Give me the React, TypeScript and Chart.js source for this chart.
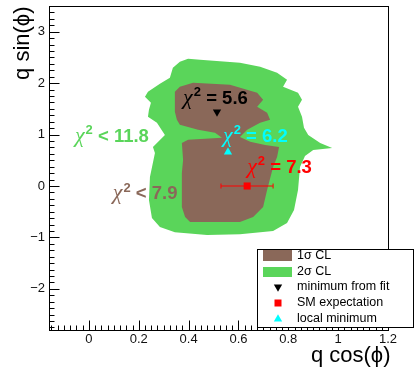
import React, { useEffect, useRef } from 'react';
import { Chart, registerables } from 'chart.js';

Chart.register(...registerables);

// ---- axes ----
const xTickValues = [0, 0.2, 0.4, 0.6, 0.8, 1, 1.2];
const yTickValues = [-2, -1, 0, 1, 2, 3];
const xMin = -0.16;
const xMax = 1.2;
const yMin = -2.8;
const yMax = 3.5;
const xTitle = 'q cos(ϕ)';
const yTitle = 'q sin(ϕ)';

// ---- 2 sigma contour ----
const cl2X = [0.446, 0.606, 0.687, 0.755, 0.795, 0.779, 0.839, 0.855, 0.839, 0.855, 0.863, 0.88, 0.928, 0.976, 0.9, 0.867, 0.847, 0.839, 0.823, 0.795, 0.739, 0.606, 0.474, 0.345, 0.285, 0.253, 0.241, 0.245, 0.265, 0.257, 0.305, 0.273, 0.237, 0.241, 0.249, 0.225, 0.237, 0.285, 0.325, 0.337, 0.365, 0.398, 0.446];
const cl2Y = [2.456, 2.398, 2.32, 2.203, 2.066, 1.93, 1.813, 1.676, 1.54, 1.345, 1.131, 0.994, 0.838, 0.741, 0.702, 0.585, 0.37, -0.078, -0.468, -0.721, -0.877, -0.936, -0.955, -0.897, -0.799, -0.624, -0.273, 0.175, 0.643, 0.76, 0.994, 1.228, 1.345, 1.481, 1.618, 1.735, 1.832, 1.988, 2.105, 2.3, 2.417, 2.476, 2.456];

// ---- 1 sigma contour ----
const cl1X = [0.365, 0.418, 0.566, 0.675, 0.699, 0.675, 0.715, 0.727, 0.687, 0.635, 0.606, 0.647, 0.707, 0.763, 0.755, 0.739, 0.715, 0.699, 0.659, 0.606, 0.538, 0.406, 0.386, 0.373, 0.373, 0.378, 0.373, 0.398, 0.534, 0.506, 0.438, 0.365, 0.353, 0.345, 0.345, 0.365];
const cl1Y = [1.93, 2.008, 1.969, 1.813, 1.676, 1.54, 1.423, 1.287, 1.228, 1.092, 0.955, 0.858, 0.799, 0.76, 0.565, 0.37, -0.078, -0.409, -0.604, -0.702, -0.702, -0.702, -0.604, -0.409, 0.253, 0.507, 0.838, 0.897, 0.936, 1.033, 1.092, 1.189, 1.287, 1.442, 1.832, 1.93];

// ---- points ----
const fitMinX = [0.514];
const fitMinY = [1.44];
const localMinX = [0.558];
const localMinY = [0.66];
const smX = [0.635];
const smY = [0];
const smErrLow = [0.53];
const smErrHigh = [0.739];

// ---- texts ----
const chiTexts = ['= 5.6', '= 6.2', '= 7.3', '< 11.8', '< 7.9'];
const legendLabels = ['1σ CL', '2σ CL', 'minimum from fit', 'SM expectation', 'local minimum'];

// ---- styles / layout (not data) ----
const BROWN = 'rgb(138,104,89)';
const GREEN = 'rgb(90,213,90)';
const CYAN = 'rgb(0,255,255)';
const RED = 'rgb(255,0,0)';
const chiAnchors = [
  { x: 0.378, y: 1.6, color: '#000' },
  { x: 0.538, y: 0.858, color: CYAN },
  { x: 0.635, y: 0.253, color: RED },
  { x: -0.056, y: 0.858, color: GREEN },
  { x: 0.096, y: -0.253, color: BROWN },
];
const SANS = '"Liberation Sans", Arial, sans-serif';
const SERIF = '"Liberation Serif", "Times New Roman", serif';

const zip = (xs: number[], ys: number[]) => xs.map((x, i) => ({ x, y: ys[i] }));

function drawTri(ctx: CanvasRenderingContext2D, x: number, y: number, r: number, down: boolean, color: string) {
  ctx.beginPath();
  const s = down ? -1 : 1;
  ctx.moveTo(x, y - s * r);
  ctx.lineTo(x + r * 0.866, y + s * r * 0.5);
  ctx.lineTo(x - r * 0.866, y + s * r * 0.5);
  ctx.closePath();
  ctx.fillStyle = color;
  ctx.fill();
}

const overlay = {
  id: 'overlay',
  afterDraw(chart: any) {
    const ctx: CanvasRenderingContext2D = chart.ctx;
    const { left, right, top, bottom } = chart.chartArea;
    const xs = chart.scales.x;
    const ys = chart.scales.y;
    ctx.save();

    // chi^2 labels
    chiTexts.forEach((t, i) => {
      const a = chiAnchors[i];
      const px = xs.getPixelForValue(a.x);
      const py = ys.getPixelForValue(a.y);
      ctx.fillStyle = a.color;
      ctx.textBaseline = 'alphabetic';
      ctx.textAlign = 'left';
      ctx.font = 'italic 22px ' + SERIF;
      ctx.fillText('χ', px, py);
      const w1 = ctx.measureText('χ').width;
      ctx.font = 'bold 13px ' + SANS;
      ctx.fillText('2', px + w1 + 1, py - 7.5);
      const w2 = ctx.measureText('2').width;
      ctx.font = 'bold 18.5px ' + SANS;
      ctx.fillText(' ' + t, px + w1 + w2 + 1, py);
    });

    // frame
    ctx.strokeStyle = '#000';
    ctx.lineWidth = 1;
    const L = Math.round(left) + 0.5;
    const T = Math.round(top) + 0.5;
    const R = Math.round(right) + 0.5;
    const B = Math.round(bottom) + 0.5;
    ctx.strokeRect(L, T, R - L, B - T);

    // ticks
    ctx.beginPath();
    for (let k = Math.ceil(xMin * 40); k <= Math.floor(xMax * 40); k++) {
      const px = Math.round(xs.getPixelForValue(k / 40)) + 0.5;
      const len = k % 8 === 0 ? 10 : 5;
      ctx.moveTo(px, B);
      ctx.lineTo(px, B - len);
    }
    for (let k = Math.ceil(yMin * 8); k <= Math.floor(yMax * 8); k++) {
      const py = Math.round(ys.getPixelForValue(k / 8)) + 0.5;
      const len = k % 8 === 0 ? 10 : 5;
      ctx.moveTo(L, py);
      ctx.lineTo(L + len, py);
    }
    ctx.stroke();

    // axis titles
    ctx.fillStyle = '#000';
    ctx.font = '22px ' + SANS;
    ctx.textAlign = 'right';
    ctx.textBaseline = 'alphabetic';
    ctx.fillText(xTitle, R + 2, 362);
    ctx.save();
    ctx.translate(29, T);
    ctx.rotate(-Math.PI / 2);
    ctx.fillText(yTitle, 0, 0);
    ctx.restore();

    // legend
    const lx = 257.5, ly = 249.5, lw = 156, lh = 78;
    ctx.fillStyle = '#fff';
    ctx.fillRect(lx, ly, lw, lh);
    ctx.strokeStyle = '#000';
    ctx.lineWidth = 1;
    ctx.strokeRect(lx, ly, lw, lh);
    const rows = [255.5, 272, 287, 303, 319];
    const mx = 278;
    ctx.fillStyle = BROWN;
    ctx.fillRect(263, 250, 29, 11);
    ctx.fillStyle = GREEN;
    ctx.fillRect(263, 267, 29, 10);
    drawTri(ctx, mx, rows[2], 4.8, true, '#000');
    ctx.fillStyle = RED;
    ctx.fillRect(mx - 3.5, rows[3] - 3.5, 7, 7);
    drawTri(ctx, mx, rows[4], 4.8, false, CYAN);
    ctx.fillStyle = '#000';
    ctx.font = '12.5px ' + SANS;
    ctx.textAlign = 'left';
    ctx.textBaseline = 'middle';
    legendLabels.forEach((t, i) => ctx.fillText(t, 297, rows[i]));

    ctx.restore();
  },
};

export default function App() {
  const ref = useRef<HTMLCanvasElement | null>(null);
  useEffect(() => {
    if (!ref.current) return;
    const chart = new Chart(ref.current, {
      type: 'scatter',
      data: {
        datasets: [
          {
            label: 'minimum from fit',
            data: zip(fitMinX, fitMinY),
            pointStyle: 'triangle',
            rotation: 180,
            pointRadius: 4.8,
            backgroundColor: '#000',
            borderColor: '#000',
            borderWidth: 0,
            order: 0,
          },
          {
            label: 'local minimum',
            data: zip(localMinX, localMinY),
            pointStyle: 'triangle',
            pointRadius: 4.8,
            backgroundColor: CYAN,
            borderColor: CYAN,
            borderWidth: 0,
            order: 0,
          },
          {
            label: 'SM expectation',
            data: zip(smX, smY),
            pointStyle: 'rect',
            pointRadius: 5,
            backgroundColor: RED,
            borderColor: RED,
            borderWidth: 0,
            order: 0,
          },
          {
            label: 'SM error',
            data: [
              { x: smErrLow[0], y: smY[0] },
              { x: smErrHigh[0], y: smY[0] },
            ],
            showLine: true,
            borderColor: RED,
            borderWidth: 1,
            pointStyle: 'line',
            rotation: 90,
            pointRadius: 2.5,
            pointBorderColor: RED,
            pointBorderWidth: 1,
            order: 1,
          },
          {
            label: '1σ CL',
            data: zip(cl1X, cl1Y),
            showLine: true,
            fill: 'shape',
            backgroundColor: BROWN,
            borderColor: 'rgba(0,0,0,0)',
            borderWidth: 1,
            pointRadius: 0,
            tension: 0,
            order: 2,
          },
          {
            label: '2σ CL',
            data: zip(cl2X, cl2Y),
            showLine: true,
            fill: 'shape',
            backgroundColor: GREEN,
            borderColor: 'rgba(0,0,0,0)',
            borderWidth: 1,
            pointRadius: 0,
            tension: 0,
            order: 3,
          },
        ],
      } as any,
      options: {
        animation: false,
        responsive: false,
        devicePixelRatio: 1,
        layout: { padding: { left: 0, right: 27, top: 6, bottom: 0 } },
        plugins: { legend: { display: false }, tooltip: { enabled: false } },
        events: [],
        scales: {
          x: {
            type: 'linear',
            min: xMin,
            max: xMax,
            afterBuildTicks: (s: any) => {
              s.ticks = xTickValues.map((v) => ({ value: v }));
            },
            afterFit: (s: any) => {
              s.height = 38;
              s.paddingLeft = 0;
              s.paddingRight = 0;
              s.paddingTop = 0;
              s.paddingBottom = 0;
            },
            grid: { display: false, drawTicks: false },
            border: { display: false },
            ticks: {
              autoSkip: false,
              maxRotation: 0,
              padding: 2,
              color: '#111',
              font: { family: SANS, size: 13 },
              callback: (v: any) => (v === 0 ? '0' : v === 1 ? '1' : Number(v).toFixed(1)),
            },
          },
          y: {
            type: 'linear',
            min: yMin,
            max: yMax,
            afterBuildTicks: (s: any) => {
              s.ticks = yTickValues.map((v) => ({ value: v }));
            },
            afterFit: (s: any) => {
              s.width = 49;
              s.paddingLeft = 0;
              s.paddingRight = 0;
              s.paddingTop = 0;
              s.paddingBottom = 0;
            },
            grid: { display: false, drawTicks: false },
            border: { display: false },
            ticks: {
              autoSkip: false,
              padding: 4,
              color: '#111',
              font: { family: SANS, size: 13 },
              callback: (v: any) => (v < 0 ? '\u2212' + Math.abs(v) : String(v)),
            },
          },
        },
      } as any,
      plugins: [overlay],
    });
    return () => chart.destroy();
  }, []);
  return (
    <div style={{ position: 'absolute', left: 0, top: 0, width: 415, height: 368, background: '#fff' }}>
      <canvas ref={ref} width={415} height={368} style={{ display: 'block' }} />
    </div>
  );
}
